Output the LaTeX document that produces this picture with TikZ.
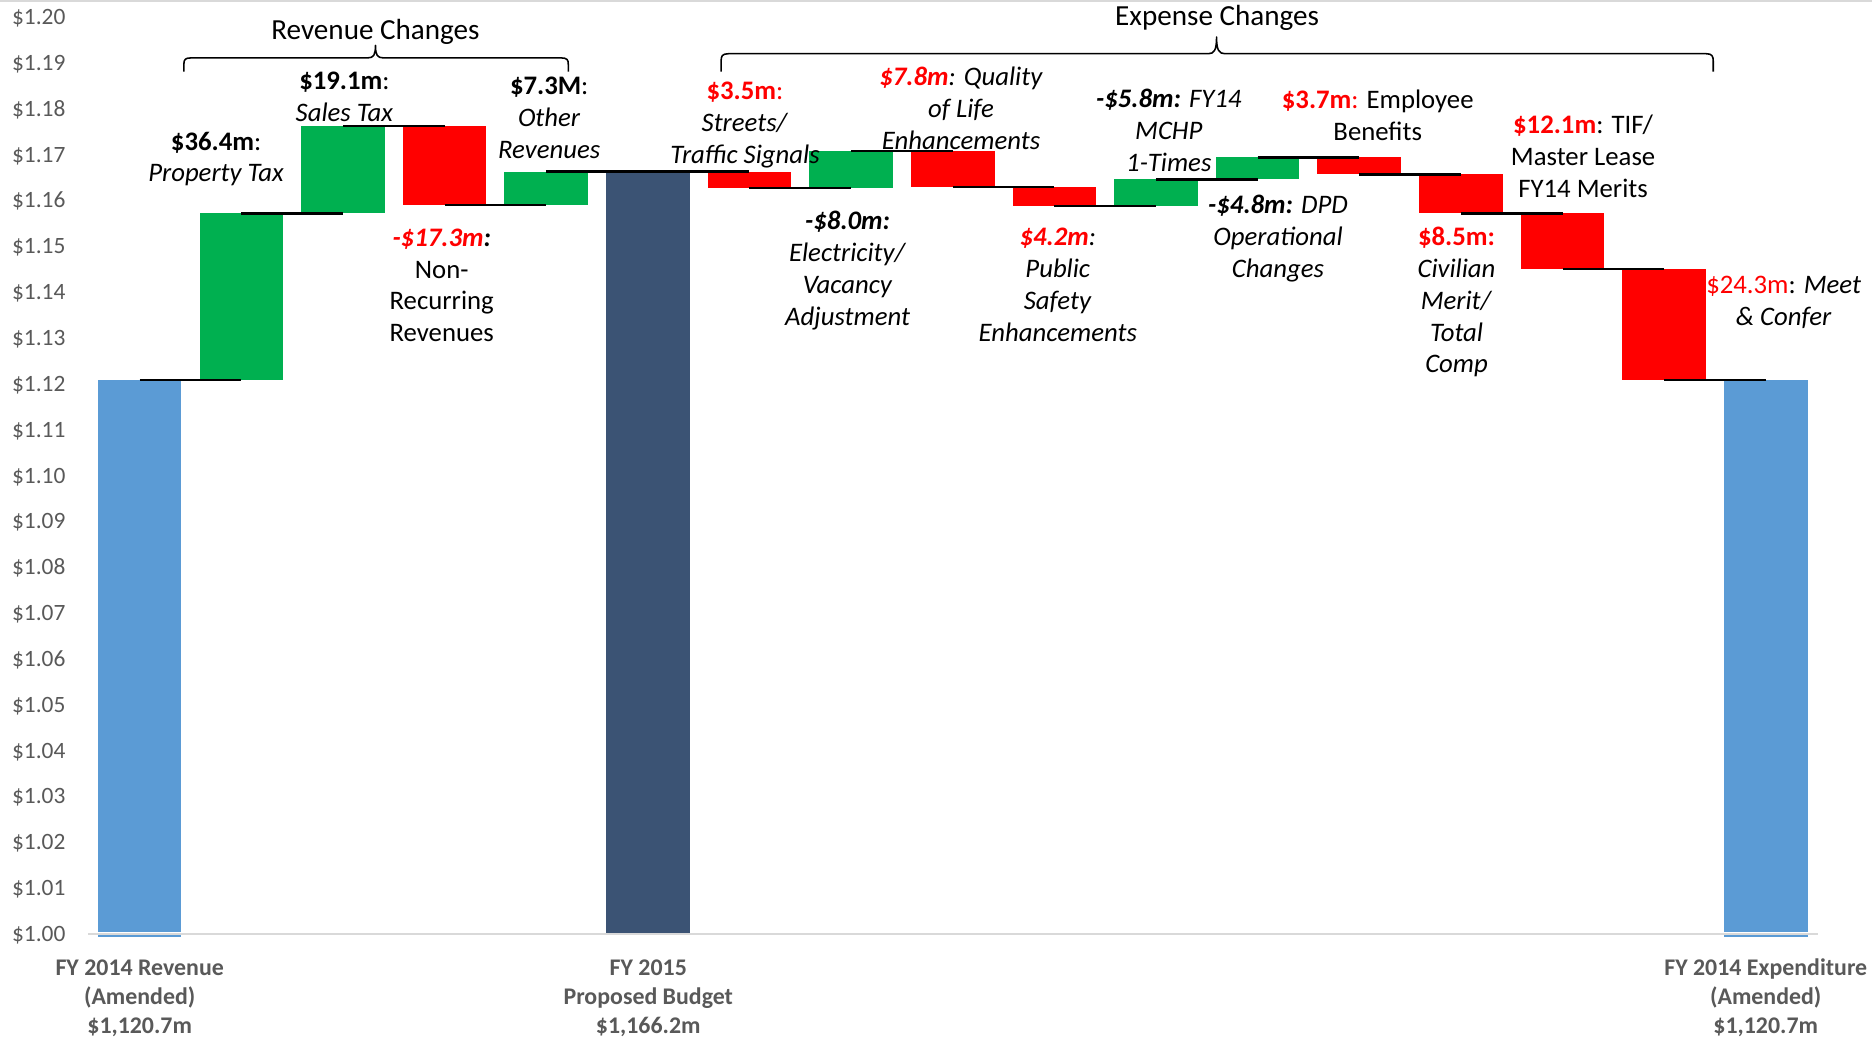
\documentclass[tikz,border=0pt]{standalone}
\usepackage{fontspec}
\setmainfont{Carlito}
\definecolor{gbar}{HTML}{00B050}
\definecolor{rbar}{HTML}{FF0000}
\definecolor{bbar}{HTML}{5B9BD5}
\definecolor{nbar}{HTML}{3B5374}
\definecolor{axgray}{HTML}{595959}
\definecolor{gridgray}{HTML}{D9D9D9}
\newcommand\redb[1]{\textcolor{rbar}{\bfseries #1}}
\tikzset{
  lbl/.style={font=\fontsize{22.4}{26.7}\selectfont, align=center, inner sep=0pt, anchor=north, text=black},
  head/.style={font=\fontsize{24.4}{29}\selectfont, inner sep=0pt, anchor=base},
  axlbl/.style={font=\fontsize{19.6}{23}\selectfont, text=axgray, inner sep=0pt, anchor=base east},
  cat/.style={font=\fontsize{20}{24.4}\selectfont\bfseries, text=axgray, align=center, inner sep=0pt, anchor=north},
  conn/.style={line width=2pt, black},
  brace/.style={line width=1.3pt, black, line join=round},
}
\begin{document}
\begin{tikzpicture}[x=1pt,y=-1pt]
\useasboundingbox (0,0) rectangle (1568,869);
\fill[white] (0,0) rectangle (1568,869);
\fill[gray!30] (0,0) rectangle (1568,1.8);

% bars: index / start value / end value / colour
\foreach \i/\a/\b/\c in {1/1.0004/1.1207/bbar, 2/1.1207/1.1571/gbar, 3/1.1571/1.1762/gbar,
  4/1.1762/1.1589/rbar, 5/1.1589/1.1662/gbar, 6/1.0/1.1662/nbar, 7/1.1662/1.1627/rbar,
  8/1.1627/1.1707/gbar, 9/1.1707/1.1629/rbar, 10/1.1629/1.1587/rbar, 11/1.1587/1.1645/gbar,
  12/1.1645/1.1693/gbar, 13/1.1693/1.1656/rbar, 14/1.1656/1.1571/rbar, 15/1.1571/1.1450/rbar,
  16/1.1450/1.1207/rbar, 17/1.0004/1.1207/bbar}
{
  \fill[\c] ({82+85.125*(\i-1)},{782-(\a-1)*3840}) rectangle ({152+85.125*(\i-1)},{782-(\b-1)*3840});
}
\fill[bbar] (82,782) rectangle (152,785);
\fill[bbar] (1444,782) rectangle (1514,785);

% gridline
\draw[gridgray, line width=1.6pt] (74,782) -- (1523,782);

% connectors
\foreach \i/\v in {1/1.1207, 2/1.1571, 3/1.1762, 4/1.1589, 5/1.1662, 6/1.1662, 7/1.1627,
  8/1.1707, 9/1.1629, 10/1.1587, 11/1.1645, 12/1.1693, 13/1.1656, 14/1.1571, 15/1.1450, 16/1.1207}
{
  \draw[conn] ({117+85.125*(\i-1)},{782-(\v-1)*3840}) -- ({117+85.125*\i},{782-(\v-1)*3840});
}

% axis labels
\foreach \k in {0,...,20}
{
  \node[axlbl] (ax\k) at (55,{782-\k*38.4+6.6}) {\$1.\ifnum\k<10 0\fi\k};
}

% braces
\draw[brace] (154,60) -- (154,54) .. controls (154,50) and (155,48.5) .. (160,48.5)
  -- (308,48.5) .. controls (313,48.5) and (314.5,46) .. (314.5,38)
  .. controls (314.5,46) and (316,48.5) .. (321,48.5) -- (470,48.5)
  .. controls (475,48.5) and (476,50) .. (476,54) -- (476,60);
\draw[brace] (604,60) -- (604,51) .. controls (604,47) and (605,45) .. (610,45)
  -- (1012,45) .. controls (1017,45) and (1019,42) .. (1019,31)
  .. controls (1019,42) and (1021,45) .. (1026,45) -- (1429,45)
  .. controls (1434,45) and (1435,47) .. (1435,51) -- (1435,60);

% headings
\node[head] (revhead) at (314.5,33.5) {Revenue Changes};
\node[head] (exphead) at (1019.5,21) {Expense Changes};

% change labels
\node[lbl] (l1) at (181,106.8) {\strut\textbf{\$36.4m}:\\\strut\textit{Property Tax}};
\node[lbl] (l2) at (288.5,56.1) {\strut\textbf{\$19.1m}:\\\strut\textit{Sales Tax}};
\node[lbl] (l3) at (370,187.3) {\strut\textcolor{rbar}{\bfseries\itshape -\$17.3m}{\bfseries\itshape :}\\\strut Non-\\\strut Recurring\\\strut Revenues};
\node[lbl] (l4) at (460,60.3) {\strut\textbf{\$7.3M}:\\\strut\textit{Other}\\\strut\textit{Revenues}};
\node[lbl] (l5) at (624,64.6) {\strut\textcolor{rbar}{\textbf{\$3.5m}:}\\\strut\textit{Streets/}\\\strut\textit{Traffic Signals}};
\node[lbl] (l6) at (710,173.6) {\strut{\bfseries\itshape -\$8.0m:}\\\strut\textit{Electricity/}\\\strut\textit{Vacancy}\\\strut\textit{Adjustment}};
\node[lbl] (l7) at (805,52.6) {\strut\textit{\textcolor{rbar}{\bfseries\$7.8m}: Quality}\\\strut\textit{of Life}\\\strut\textit{Enhancements}};
\node[lbl] (l8) at (886,186.7) {\strut\textit{\textcolor{rbar}{\bfseries\$4.2m}:}\\\strut\textit{Public}\\\strut\textit{Safety}\\\strut\textit{Enhancements}};
\node[lbl] (l9) at (979,71.3) {\strut\textit{\textbf{-\$5.8m:} FY14}\\\strut\textit{MCHP}\\\strut\textit{1-Times}};
\node[lbl] (l10) at (1070.5,160.3) {\strut\textit{\textbf{-\$4.8m:} DPD}\\\strut\textit{Operational}\\\strut\textit{Changes}};
\node[lbl] (l11) at (1154,71.7) {\strut\textcolor{rbar}{\textbf{\$3.7m}:} Employee\\\strut Benefits};
\node[lbl] (l12) at (1220,186.7) {\strut\redb{\$8.5m:}\\\strut\textit{Civilian}\\\strut\textit{Merit/}\\\strut\textit{Total}\\\strut\textit{Comp}};
\node[lbl] (l13) at (1326,92.9) {\strut\redb{\$12.1m}: TIF/\\\strut Master Lease\\\strut FY14 Merits};
\node[lbl] (l14) at (1494,227.3) {\strut\textcolor{rbar}{\$24.3m}: \textit{Meet}\\\strut\textit{\& Confer}};

% category labels
\node[cat] (c1) at (117,799.5) {\strut FY 2014 Revenue\\\strut (Amended)\\\strut \$1,120.7m};
\node[cat] (c2) at (543,799.5) {\strut FY 2015\\\strut Proposed Budget\\\strut \$1,166.2m};
\node[cat] (c3) at (1479,799.5) {\strut FY 2014 Expenditure\\\strut (Amended)\\\strut \$1,120.7m};
\end{tikzpicture}
\end{document}
